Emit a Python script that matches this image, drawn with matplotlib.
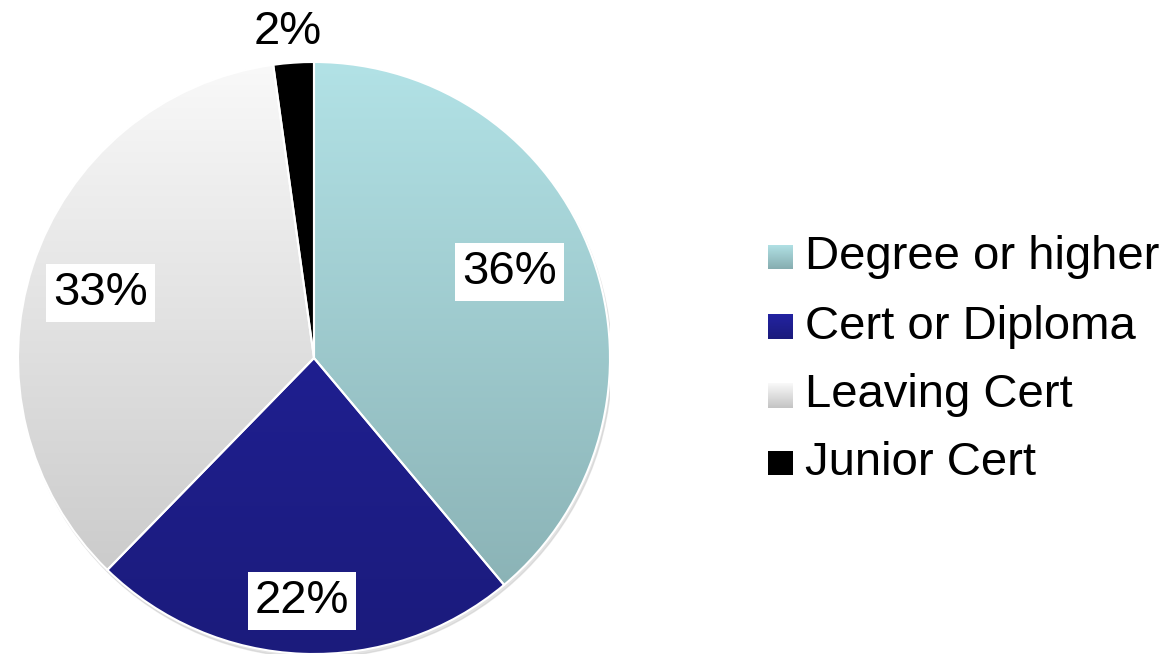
import numpy as np
import matplotlib.pyplot as plt
from matplotlib.colors import LinearSegmentedColormap

plt.rcParams['font.family'] = ['Liberation Sans', 'DejaVu Sans']

# data
categories = ["Degree or higher", "Cert or Diploma", "Leaving Cert", "Junior Cert"]
shares = [38.9, 23.4, 35.5, 2.2]          # slice sizes
pct_labels = ["36%", "22%", "33%", "2%"]   # labels as printed on the chart
top_colors = ["#b2e2e6", "#2323a3", "#f9f9f9", "#000000"]
bottom_colors = ["#86adb0", "#1b1b7c", "#c4c4c4", "#000000"]
label_pos = [(0.66, 0.29), (-0.04, -0.82), (-0.72, 0.22), (-0.09, 1.10)]

W, H = 1169, 656
fig = plt.figure(figsize=(W / 100, H / 100), dpi=100)

cx, cy, r = 314, 358, 296
ax = fig.add_axes([(cx - r) / W, (H - cy - r) / H, 2 * r / W, 2 * r / H])

wedges, _ = ax.pie(shares, startangle=90, counterclock=False, radius=1,
                   wedgeprops=dict(linewidth=1.5, edgecolor="white"))

# soft shadow
shadow = plt.Circle((0.006, -0.012), 1.0, color="#c8c8c8", alpha=0.5, zorder=0)
ax.add_patch(shadow)

for w, c0, c1 in zip(wedges, top_colors, bottom_colors):
    cmap = LinearSegmentedColormap.from_list("g", [c1, c0])
    grad = np.linspace(0, 1, 256).reshape(-1, 1)
    im = ax.imshow(grad, cmap=cmap, extent=[-1, 1, -1, 1], origin="lower",
                   aspect="auto", zorder=1)
    im.set_clip_path(w)
    w.set_facecolor("none")
    w.set_zorder(2)

for (x, y), t in zip(label_pos, pct_labels):
    if t == "2%":
        ax.text(x, y, t, ha="center", va="center", fontsize=34, zorder=5)
    else:
        ax.text(x, y, t, ha="center", va="center", fontsize=34, zorder=5,
                bbox=dict(facecolor="white", edgecolor="none", pad=5))

ax.set_xlim(-1, 1)
ax.set_ylim(-1, 1)
ax.set_aspect("auto")
ax.axis("off")

# legend drawn by hand with gradient swatches
leg_y = [257, 327, 395, 463]
for yy, name, c0, c1 in zip(leg_y, categories, top_colors, bottom_colors):
    sw = fig.add_axes([768 / W, (H - yy - 12.5) / H, 25 / W, 25 / H])
    cmap = LinearSegmentedColormap.from_list("g", [c1, c0])
    sw.imshow(np.linspace(0, 1, 64).reshape(-1, 1), cmap=cmap, origin="lower",
              aspect="auto")
    sw.axis("off")
    fig.text(805 / W, (H - yy) / H, name, fontsize=34, va="center", ha="left")

fig.savefig("out.png", dpi=100)
